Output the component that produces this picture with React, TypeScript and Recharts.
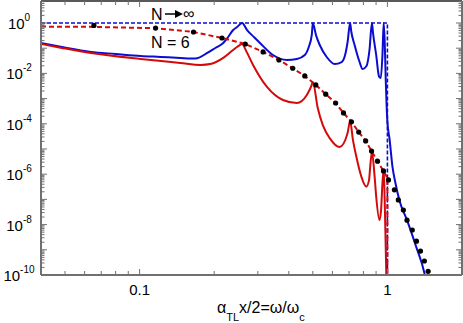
import React from "react"
import { LineChart, Line, XAxis, YAxis, ReferenceLine } from "recharts"

// blue solid: N = 6 transmission
const tN6X = [0.04, 0.048, 0.0636, 0.08, 0.101, 0.1214, 0.146, 0.168, 0.1875, 0.202, 0.2175, 0.2277, 0.2385, 0.2474, 0.259,
  0.2715, 0.29, 0.306, 0.3452, 0.393, 0.431, 0.4642, 0.4816, 0.4953, 0.5,
  0.515, 0.5332, 0.5689, 0.6124, 0.6535, 0.6781, 0.6908, 0.707,
  0.715, 0.7372, 0.7722, 0.7939, 0.8235, 0.8467, 0.866,
  0.875, 0.901, 0.925, 0.94, 0.955, 0.966,
  0.975, 0.985, 0.993, 1.0, 1.02, 1.048, 1.08, 1.117, 1.2, 1.307, 1.41, 1.43]
const tN6Y = [0.161, 0.114, 0.071, 0.059, 0.049, 0.045, 0.041, 0.039, 0.0645, 0.102, 0.161, 0.278, 0.527, 0.694, 1,
  0.527, 0.27, 0.161, 0.0537, 0.034, 0.0373, 0.0537, 0.112, 0.334, 1,
  0.33, 0.134, 0.0448, 0.0236, 0.0283, 0.0645, 0.176, 1,
  0.45, 0.134, 0.0283, 0.015, 0.0197, 0.085, 1,
  0.4, 0.054, 0.0075, 0.0065, 0.054, 1,
  0.2, 5e-3, 5e-4, 1.2e-4, 2.5e-5, 2e-6, 4e-7, 9.5e-8, 1.5e-8, 1.3e-9, 1.2e-10, 6e-11]

// red solid: N = 6, second quantity
const rN6X = [0.04, 0.048, 0.0636, 0.101, 0.146, 0.176, 0.195, 0.2175, 0.2385, 0.25, 0.259,
  0.27, 0.287, 0.3266, 0.3788, 0.431, 0.4729, 0.4953, 0.5,
  0.5235, 0.5482, 0.5849, 0.6415, 0.6908, 0.707,
  0.726, 0.749, 0.785, 0.822, 0.843, 0.852, 0.866,
  0.888, 0.901, 0.929, 0.943, 0.955, 0.966,
  0.975, 0.985, 0.99, 0.992]
const rN6Y = [0.147, 0.105, 0.0645, 0.0373, 0.0259, 0.0216, 0.024, 0.041, 0.085, 0.12, 0.147,
  0.073, 0.0216, 0.0029, 8.8e-4, 6.7e-4, 1.4e-3, 3.5e-3, 4.6e-3,
  4.2e-4, 9e-5, 2.7e-5, 1.2e-5, 4.3e-5, 1.3e-4,
  2.3e-5, 5e-6, 8e-7, 3.2e-7, 5.8e-7, 1.9e-6, 7.6e-6,
  8e-7, 1.3e-7, 1.5e-8, 3.9e-8, 4.3e-7, 1.5e-6,
  1e-7, 1e-9, 1e-10, 5e-11]

// blue dashed: N -> infinity
const tInfX = [0.04, 1, 1]
const tInfY = [1, 1, 1e-11]

// red dashed: N -> infinity
const rInfX = [0.04, 0.0654, 0.116, 0.165, 0.215, 0.267, 0.315, 0.365, 0.415, 0.464, 0.514, 0.564, 0.618, 0.665,
  0.716, 0.766, 0.817, 0.863, 0.912, 0.964, 1.0, 1.0]
const rInfY = [0.72, 0.7, 0.62, 0.44, 0.254, 0.147, 0.071, 0.034, 0.016, 0.0079, 0.0035, 0.0015, 6.7e-4, 2.7e-4,
  1.2e-4, 4.7e-5, 2.1e-5, 8.3e-6, 3.3e-6, 1.35e-6, 7e-7, 1e-11]

// black dots
const dotX = [0.0654, 0.116, 0.165, 0.215, 0.267, 0.315, 0.365, 0.415, 0.464, 0.514, 0.564, 0.618, 0.665, 0.716,
  0.766, 0.817, 0.863, 0.912, 0.964, 1.01, 1.067, 1.107, 1.16, 1.2, 1.26, 1.31, 1.36, 1.41, 1.46]
const dotY = [0.8, 0.63, 0.44, 0.254, 0.147, 0.071, 0.034, 0.016, 0.0079, 0.0035, 0.0015, 6.7e-4, 2.7e-4, 1.2e-4,
  4.7e-5, 2.1e-5, 8.3e-6, 3.3e-6, 1.35e-6, 5.9e-7, 2.4e-7, 9.5e-8, 3.8e-8, 1.5e-8, 6.1e-9, 2.2e-9, 8.9e-10, 3.6e-10, 1.4e-10]

const xMinor = [0.04, 0.05, 0.06, 0.07, 0.08, 0.09, 0.2, 0.3, 0.4, 0.5, 0.6, 0.7, 0.8, 0.9]
const xMajor = [0.1, 1]
const xLabels = ["0.1", "1"]
const yLabelExps = [0, -2, -4, -6, -8, -10]

const W = 463
const H = 323
const yTop = 7.46
const plotW = 421
const plotH = 274
const gray = "#707070"
const blue = "#0c0cd0"
const red = "#d40a0a"
const font = '"Liberation Sans", Arial, sans-serif'

const yTicks: number[] = []
for (let k = -10; k <= 0; k++) {
  for (let m = 1; m <= 9; m++) {
    const v = m * Math.pow(10, k)
    if (v <= yTop) yTicks.push(v)
  }
}
const xTicks = [...xMinor, ...xMajor].sort((a, b) => a - b)

const pts = (xs: number[], ys: number[]) => xs.map((x, i) => ({ x, y: ys[i] }))

function YTick(props: any) {
  const { x, y, payload } = props
  const lg = Math.log10(payload.value)
  const k = Math.round(lg)
  const major = Math.abs(lg - k) < 1e-6
  const len = major ? 6 : 3.5
  const showLabel = major && yLabelExps.includes(k)
  return (
    <g>
      <line x1={x} x2={x + len} y1={y} y2={y} stroke={gray} strokeWidth={1} />
      <line x1={x + plotW} x2={x + plotW - len} y1={y} y2={y} stroke={gray} strokeWidth={1} />
      {showLabel && (
        <text x={19} y={y + 6} textAnchor="middle" fill="#000" fontFamily={font}>
          <tspan fontSize={15}>10</tspan>
          <tspan fontSize={10} dy={-8}>{String(k)}</tspan>
        </text>
      )}
    </g>
  )
}

function XTick(props: any) {
  const { x, y, payload } = props
  const idx = xMajor.indexOf(payload.value)
  const len = idx >= 0 ? 6 : 4
  return (
    <g>
      <line x1={x} x2={x} y1={y} y2={y - len} stroke={gray} strokeWidth={1} />
      <line x1={x} x2={x} y1={y - plotH} y2={y - plotH + len} stroke={gray} strokeWidth={1} />
      {idx >= 0 && (
        <text x={x} y={y + 20} textAnchor="middle" fontSize={15} fill="#000" fontFamily={font}>
          {xLabels[idx]}
        </text>
      )}
    </g>
  )
}

export default function App() {
  return (
    <div style={{ position: "absolute", left: 0, top: 0, width: W, height: H, background: "#fff", fontFamily: font }}>
      <LineChart width={W} height={H} margin={{ top: 1, right: 1, left: 0, bottom: 0 }}>
        <XAxis
          dataKey="x"
          type="number"
          scale="log"
          domain={[0.04, 2]}
          allowDataOverflow
          ticks={xTicks}
          interval={0}
          tick={XTick}
          tickLine={false}
          tickSize={0}
          tickMargin={0}
          height={48}
          axisLine={{ stroke: gray, strokeWidth: 2 }}
        />
        <YAxis
          type="number"
          scale="log"
          domain={[1e-10, yTop]}
          allowDataOverflow
          ticks={yTicks}
          interval={0}
          tick={YTick}
          tickLine={false}
          tickSize={0}
          tickMargin={0}
          width={41}
          axisLine={{ stroke: gray, strokeWidth: 2 }}
        />
        <ReferenceLine y={yTop} stroke="#222" strokeWidth={1.5} />
        <ReferenceLine x={2} stroke={gray} strokeWidth={2} />
        <Line data={pts(tN6X, tN6Y)} dataKey="y" type="monotone" stroke={blue} strokeWidth={2} dot={false} isAnimationActive={false} />
        <Line data={pts(rN6X, rN6Y)} dataKey="y" type="monotone" stroke={red} strokeWidth={2} dot={false} isAnimationActive={false} />
        <Line data={pts(tInfX, tInfY)} dataKey="y" type="linear" stroke={blue} strokeWidth={1.6} strokeDasharray="4 2" dot={false} isAnimationActive={false} />
        <Line data={pts(rInfX, rInfY)} dataKey="y" type="linear" stroke={red} strokeWidth={2} strokeDasharray="5 3" dot={false} isAnimationActive={false} />
        <Line data={pts(dotX, dotY)} dataKey="y" type="linear" stroke="none" dot={{ r: 2.6, fill: "#000", stroke: "none" }} isAnimationActive={false} />
      </LineChart>
      <svg width={W} height={H} style={{ position: "absolute", left: 0, top: 0, pointerEvents: "none" }}>
        <text x={151} y={20} fontSize={16} fill="#000" fontFamily={font}>N</text>
        <line x1={165} x2={176} y1={14} y2={14} stroke="#000" strokeWidth={1.5} />
        <polygon points="175,10 183,14 175,18" fill="#000" />
        <text x={183} y={19} fontSize={16} fill="#000" fontFamily={font}>∞</text>
        <text x={151} y={48} fontSize={16} fill="#000" fontFamily={font}>N = 6</text>
        <text x={217} y={313} fontSize={16} fill="#000" fontFamily={font}>
          α<tspan fontSize={11} dy={8}>TL</tspan>
          <tspan dy={-8}>x/2=ω/ω</tspan>
          <tspan fontSize={11} dy={8}>c</tspan>
        </text>
      </svg>
    </div>
  )
}
